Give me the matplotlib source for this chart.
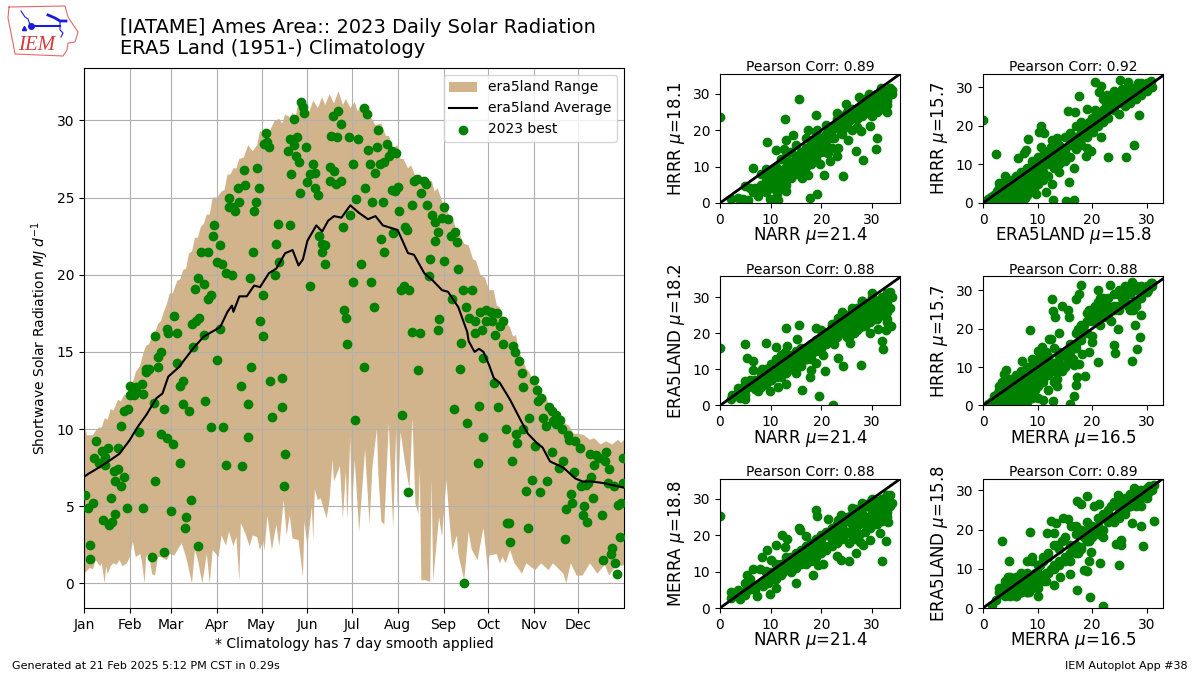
import numpy as np
import matplotlib as mpl
mpl.use("Agg")
import matplotlib.pyplot as plt

# Climatology band
high_edge = [(1,10.7),(2,10.0),(3,9.6),(7,9.6),(9,9.9),(11,10.1),(13,10.1),(15,10.7),(17,10.6),(19,11.3),(21,11.2),(24,11.9),(26,11.8),(28,12.2),(30,12.2),(32,12.9),(34,13),(36,13.7),(39,14.1),(41,14.9),(43,15.4),(45,15.5),(47,16),(49,16.2),(51,16.8),(53,17),(55,17.6),(57,18.1),(59,18.8),(61,18.8),(64,19.6),(66,19.7),(68,20.3),(70,20.4),(72,21.4),(74,21.5),(76,22.4),(78,22.4),(80,23.1),(82,23.3),(84,23.9),(86,23.9),(88,25),(91,25),(94,25.4),(96,25.5),(98,26.5),(100,26.5),(102,26.9),(104,26.9),(106,27.5),(109,27.6),(112,28.4),(115,28),(118,28.4),(120,29.3),(123,29.2),(125,29),(127,29.4),(130,30),(133,30.1),(135,29.8),(137,30.4),(140,30.2),(142,30.5),(144,30.2),(146,31.2),(148,30.7),(151,31),(153,30.5),(156,31.3),(159,30.8),(162,31.5),(164,31),(167,31.7),(170,31.1),(173,31.9),(176,31),(178,31.4),(181,30.8),(184,31.2),(186,30.6),(188,30.9),(191,30.2),(195,30.2),(198,29.7),(202,29.8),(205,29),(207,29),(210,28.2),(213,28.4),(215,27.5),(217,27.5),(220,26.9),(222,27.1),(225,26.4),(228,26.5),(231,26),(236,26.1),(238,25.4),(240,25.6),(243,24.8),(245,24.2),(247,24.1),(249,23.4),(251,23.5),(253,22.6),(255,22.6),(258,22),(261,21.9),(264,21),(266,20.9),(269,20),(272,19.8),(275,19),(278,19),(280,18),(282,17.9),(285,17),(289,16.6),(291,16),(293,16.1),(295,15),(297,14.6),(300,13.9),(302,13.7),(305,13),(308,12.9),(311,12.2),(313,12.2),(316,11.4),(320,11.2),(324,10.5),(329,10.2),(332,9.7),(335,9.7),(339,9.6),(343,9.3),(346,9.4),(350,9),(354,9.2),(358,9),(362,9.3),(364,9.1),(366,9.3)]
low_day = [1,2,5,7,9,12,13,15,16,17,19,21,23,25,27,30,32,34,36,39,40,42,43,45,47,49,51,53,57,59,62,67,70,74,76,78,81,84,86,88,92,94,97,99,102,104,106,107,110,113,115,118,120,122,123,125,128,131,133,136,138,140,142,146,149,150,152,155,156,157,159,161,165,167,169,170,174,176,178,179,181,182,184,187,191,194,196,199,200,202,204,207,210,212,213,215,218,221,223,225,227,228,229,232,235,236,237,241,243,246,248,250,253,254,258,261,263,267,271,274,275,280,282,284,286,289,292,297,300,306,310,315,318,325,327,330,334,338,343,348,353,356,360,366]
low_val = [0.7,0.7,1.0,0.9,1.5,1.1,1.3,0,1.1,0.6,1.1,1.3,1.2,1.5,1.1,1.3,1.7,2.7,1.7,1.9,1.5,0,1.7,1.9,0.6,0.5,1.7,1.7,1.5,1.9,1.8,2.6,1.7,0,2.15,1.5,0,1.9,0,2.15,1.7,3.1,2.45,3.35,2.4,3.0,0.1,3.9,3.25,2.4,3.1,3.0,2.15,2.8,2.1,4.4,2.15,3.8,2.4,5.4,3.1,4.4,2.9,2.8,0.4,4.0,2.4,4.9,2.8,6.1,5.4,5.5,4.2,5.4,8.0,6.6,7.6,4.2,7.3,4.1,9.5,4.5,8.0,3.35,8.7,3.8,7.6,10,7,4,3.8,10.4,3.5,10,4.75,9.8,7.8,6.1,10.7,5.2,4.5,7.4,0.2,0.2,0.1,6.8,0.2,4.3,3,6.7,4.1,2.15,3.1,1.9,0.2,3.35,2.2,1.5,3.6,0.85,1.8,1.9,1.3,1.7,1.3,2.15,1.3,0.63,1.3,0.85,1.3,0.85,1.3,0.63,0,1.3,0.5,0.5,1.3,0.63,1.2,0.5,1.07,1.17]

avg_day = [1,4,11,19,25,32,37,43,50,54,58,65,75,82,93,98,101,102,106,111,116,120,126,131,137,142,146,149,152,158,162,166,170,175,181,187,193,198,203,213,220,224,231,236,243,247,254,260,261,265,268,271,275,278,282,289,296,301,307,311,316,325,333,338,344,352,366]
avg_val = [6.9,7.1,7.5,8.0,8.4,9.3,10.1,10.9,12.0,12.3,13.4,14.0,15.25,16.0,16.6,17.6,18.0,17.6,18.6,18.6,19.3,19.2,20.1,20.4,21.4,21.6,20.6,21.0,22.2,23.2,22.8,23.5,23.8,23.7,24.5,24.0,23.6,23.8,23.2,22.9,21.4,21.3,20.1,19.7,19.0,18.9,17.9,16.3,15.7,15.0,15.2,15.0,14.1,13.3,13.0,11.9,10.6,9.7,9.1,8.8,7.9,7.5,6.8,6.6,6.6,6.5,6.2]

# 2023 observed, day of year and MJ
obs_day = [49,57,58,62,64,74,77,79,82,85,87,76,78,82,89,88,93,80,85,91,94,97,101,113,115,122,120,122,93,99,99,102,106,103,105,110,109,118,119,117,116,123,124,126,125,132,140,131,133,130,154,139,140,145,143,151,143,144,146,141,147,152,154,157,156,148,149,150,157,159,167,170,167,171,175,169,173,175,168,172,180,186,183,190,192,200,193,199,206,194,201,204,209,212,207,198,191,209,213,211,185,196,203,214,223,181,176,160,162,164,162,164,202,210,218,219,204,188,183,195,217,215,221,177,178,197,224,226,231,232,229,233,236,238,240,238,244,243,247,249,252,253,235,244,254,234,257,263,250,259,261,265,269,273,276,280,273,277,284,282,241,240,223,228,265,270,279,179,256,
           75,64,91,114,43,45,43,51,53,51,32,36,40,32,35,41,36,48,28,31,55,26,38,24,53,57,61,66,68,68,72,83,87,95,107,127,135,112,128,135,112,66,97,108,137,136,190,227,184,216,255,251,268,260,271,267,220,258,271,278,281,286,293,294,290,298,302,306,298,297,295,292,291,284,305,307,308,310,311,313,315,317,320,318,323,320,324,328,329,333,336,317,325,322,332,300,304,314,309,330,331,327,339,287,288,301,289,326,338,341,344,337,340,342,345,351,343,347,349,354,353,346,356,355,359,362,364,365,365,
           2,4,7,5,5,9,8,11,15,13,17,15,21,24,22,26,28,19,22,30,14,18,20,41,49,60,73,70,69,78,47,55,363,358,357,352,360,361]
obs_val = [16,16.5,16.2,17.3,16.2,16.8,17,17.2,16.1,18.4,18.7,19.1,19.8,19.4,23.2,22.5,21.9,21.5,21.5,20.8,20.7,20.1,20,19.8,21.5,18.7,17,16,16.5,25,24.4,24.4,24.7,24.1,25.6,25.8,26.8,26.9,25.6,24.7,24.1,28.5,29.2,28.3,28.6,23.3,23.2,22,20.8,20,19.3,28,28.8,28.9,30.1,28.3,28.4,27.7,27.3,26.5,25.3,26,26.5,26.6,27.2,31.2,30.9,30.5,25.6,25.2,27,26.7,26.1,25.9,26.1,30.3,30.6,29.8,29,28.9,28.9,28.8,27.2,30.8,30.4,29.4,28.1,28.3,28.5,27.2,27.2,27.3,28,27.9,27.7,26.6,25.6,25.5,25.7,25.4,24.9,24.7,24.7,24.1,24.5,23.9,23.1,22.5,22,21.9,21.5,20.7,22.3,22.7,23.1,22.9,21.5,20.7,19.5,19.5,19.3,19,19,17.7,17.2,17.9,26.1,26.2,26.1,25.9,25.3,24.5,23.9,23.4,22.8,22.2,24.4,23.7,23.6,22.5,22.8,22.1,21,20.9,20.4,19.9,19,19,18.4,17.9,17.2,17,17.6,17.7,17.6,17.5,17,17,17,16.7,17.1,16.4,16.3,16.2,16.2,16.4,16.1,15.5,15.6,
           15.3,14.3,14.5,14,13.9,13.9,13.7,14,15,14.7,12.8,12.7,12.9,12.2,12.2,12.3,12.4,11.7,11.2,11.3,11.3,10.2,9.8,8.8,9.7,9.4,9,12.8,13.1,11.6,11.2,11.8,10.1,10.1,12.8,13.1,13.3,11.6,10.8,11.4,9.5,7.8,7.7,7.6,8.4,6.3,14,13.8,10.6,10.9,13.9,11.3,11.5,10.4,9.5,7.8,5.9,0,14.6,13,11.4,10,9.7,9.1,7.9,10,10.7,8.9,12.7,13.6,14.4,15,15.4,15.5,13.2,12.5,11.8,12,10.7,10.2,11.4,11.2,10.9,10.5,10.6,10.3,10,9.6,9.3,9.2,8.8,8.5,7.9,7.5,7.2,6,6.7,6.6,5.9,5.8,5.2,4.8,5,3.9,3.9,3.6,2.7,2.9,4.4,4,6.9,6.3,6.4,6.5,5.5,4.4,8.4,8.3,8.1,8.5,7.9,7.7,7.4,6.5,6.3,5.1,5.2,8.1,6.5,
           5.7,4.9,5.2,2.5,1.6,9.2,8.1,7.8,8.2,8.6,8.8,7.7,7.3,7.4,6.6,6.3,6.9,5.5,4.5,4.9,4.1,3.8,4,4.9,6.6,4.7,5.4,4.3,3.6,2.4,1.7,2,3,2.3,1.9,1.5,1.3,0.6]

# Comparison panels, x then y
narr_hrrr_x = [0,15.6,12.9,19,9.2,11.1,12.6,6.5,9,13.1,14.3,17.4,19.1,21,23,24.8,27.4,29.4,31.8,33.5,33.7,33,31,31,30.7,29.5,27.8,28.2,26.8,25.3,24.3,23.2,23,20.5,19.1,17.7,17.4,16.2,18,19.7,21.6,20.3,21.3,23.9,2.2,3.6,4.5,5.5,4.9,5.9,7.5,8.2,9.9,11.2,11.4,13,10.8,9.8,
               24,25,26,27,27,28,28,29,29,30,30,30,31,31,31,32,32,32,33,33,33,34,33,34,26,25,27,28,29,23,22,22,24,21,20,19,18,17,16,15,14,13,12,11,10,9,8,7,18,17,16,15,14,13,12,11,10,9,20,21,22,19,16,18,15,17,19,13,12,14,11,10,8,26,25,24,23,
               28.5,29.5,30.5,31.5,32.5,33.5,27.5,26.5,25.5,24.5,
               29.5,30.5,31.5,32.5,28.5,27.5,26.5,33,31,30,
               23.5,22.5,21.5,20.5,19.5,18.5,17.5,16.5,15.5,14.5,
               13.5,12.5,11.5,10.5,9.5,8.5,7.5,6.5,14,16,
               15,13,12,17,19,21,20,18,22.5,24]
narr_hrrr_y = [23.7,28.6,23.2,24.1,16.7,14.5,14.9,9.5,9.4,17.4,18.7,20.2,20.2,21.6,24.8,27.2,29.2,30,31.7,31.7,30.5,25,25.2,17.9,14.9,21.1,19.9,11.7,14.2,17.2,7.3,15.1,12.8,7.6,2.6,1.3,7.8,6.9,10.6,10.7,11.5,15.4,13.8,19.3,1.1,1.4,1.2,0.9,4.8,4.1,2,3.7,1.1,2.5,0.9,3.4,6,8.7,
               22,23,24,25,23,26,24,27,25,28,26,24,29,27,25,30,28,26,30,29,27,30,28,31,26,21,21,28,29,21,20,18,19,19,18,17,17,15,14,13,11,10,9,8,7,6,5,4,13,12,11,10,9,7,6,5,4,3,14,16,15,13,8.5,11,16,18,19,13,12,14,10,9,8,20,25,24,23,
               25.5,26.5,27.5,28.5,29.5,30.5,24.5,23.5,22.5,21.5,
               24.5,25.5,26.5,27.5,27,26,25,31,30,27.5,
               22,21,20,17,16,15,14,13,12,11.5,
               11,8,7,6,7,4,3,3,7,9.5,
               8,5,4,10,12,14,15.5,16,18,21]

era_hrrr_x = [0,2.4,8.2,7.8,7.5,6.4,10.7,10.2,11.2,10.6,11.2,12.7,13.6,15.5,16.8,17.6,20.6,21.6,21.3,22.8,25.1,26.6,29,30.8,28.6,27.7,26.2,22.9,21.7,19.1,20.1,19.1,18.8,19.8,16.7,15.8,12.9,15.2,16.7,14,12.7,11.5,9.8,9.3,7.7,4.1,2.9,
              0.5,1,1.5,2,2,2.5,3,3,3.5,4,4,4,4.5,5,5,5,5.5,6,6,6,6,6.5,7,7,7,7,8,8,8,8,9,9,9,9,10,10,10,10,11,11,11,12,12,12,13,13,14,14,14,15,15,15,16,16,16,17,17,17,18,18,18,19,19,20,20,21,21,22,22,23,23,24,24,25,25,26,26,27,27,28,28,29,29,30,30,31,24,22,
              1,2,3,4,5,6,7,8,1.5,2.5,
              3.5,4.5,5.5,6.5,7.5,8.5,9.5,3,4,5,
              6,7,8,9,10,11,12,13,14,15,
              16,17,18,19,20,21,22,23,24,25,
              26,27,28,29,30,26.5,27.5,28.5,25.5,24.5,
              23.5,22.5,21.5,20.5,19.5,18.5,17.5,14.5,13.5,12.5,
              11.5,10.5,9.5,8.5,7.5,6.5,5.5,4.5,2,1]
era_hrrr_y = [21.4,12.7,16.6,13.8,12.9,11.6,20,18.5,18.1,14.5,13.4,16.4,16.8,23.7,23.5,27.6,31.2,30.4,28.7,28,31.9,31.2,31,31.7,22.8,14.9,11.8,11.8,17.2,24.4,18.5,14.2,12.1,13.4,9.1,5.4,0.9,0.6,0.8,7.9,4.9,2.8,2.4,3.9,1.3,6.9,5.3,
              0.5,1,0.8,2,1,3,2,0.5,3.5,1,3,5,2,0.5,4,6,2,1,3,5,7,2,0.5,4,6,8,2,5,7,9,3,6,8,11,5,7,9,12,6,8,11,7,10,13,9,11,10,13,15,11,14,17,12,15,18,14,17,20,15,18,21,17,20,19,22,20,23,21,24,22,26,24,27,23,28,25,29,26,28,27,30,28,30,29,31,30,29,27,
              0.3,0.6,1.2,1.8,2.5,3.5,4.5,5.5,1.6,1.8,
              0.8,3.5,3.8,4.2,5,6,7,4,4,5.2,
              6,7,8,9.5,10.5,9.5,11.5,12.5,12,13,
              16.5,15.5,16.5,18.5,20.5,21.5,23,24,25,26,
              27,27.5,28.5,29.5,29.5,30,29.5,31,29.5,28,
              25,25.5,22.5,24,21,19.5,16.5,14,12,14.5,
              12.5,8,5,3.5,2.5,1,0.8,0.5,0.3,0.2]

narr_era_x = [0,5,9,5.4,6.5,13,15.6,19,11.1,13.3,15.1,22,23.3,28.2,33.8,33,32.8,31.2,29.5,32,32.2,27.8,25.6,24.3,23.2,20.3,20.7,17.7,17.9,19,16.2,19.5,22.2,14.9,13.1,11.4,9.9,7.4,4.9,2.2,2.4,3.6,3.9,4.9,4.9,6.5,8.2,10.1,12.8,33.5,31.5,
              34,33,33,33,32,32,32,31,31,31,30,30,30,29,29,29,28,28,28,27,27,27,26,26,26,25,25,25,24,24,23,23,22,22,21,21,20,20,19,19,18,18,17,17,16,16,15,15,14,14,13,13,12,12,11,11,10,10,9,9,8,8,7,7,6,6,5,24,26,28,30,22,20,
              33,32.5,32,31.5,31,30.5,30,29.5,29,28.5,
              28,27.5,27,26.5,26,25.5,25,24.5,24,23.5,
              33.5,32.5,31.5,30.5,29.5,28.5,27.5,26.5,25.5,33,
              23,22.5,22,21.5,21,20.5,20,19.5,19,18.5,
              18,17.5,17,16.5,16,15.5,15,14.5,14,13.5,
              13,12.5,12,11.5,11,10.5,10,9.5,9,8.5,
              8,7.5,7,6,5.5,5,4,3,30,28]
narr_era_y = [16,17.1,17.3,13.1,12.3,21.5,22.2,21.5,16.2,16.6,18.5,22.6,24.3,28.4,22,23.1,21,21.2,20,17.9,15.7,11.1,17.3,10.9,13.2,14,9.6,7.8,9.7,11.7,4.4,2.6,0.2,9,6,5.1,4,3.9,4.2,1.8,2.8,4.9,2.1,1.8,6.9,9.7,10.2,11.5,14.8,31.4,29.1,
              30,31,28,26,30,27,25,29,27,24,29,26,24,28,26,23,28,25,22,27,24,21,26,23,20,25,22,19,24,20,23,19,22,18,20,17,19,16,18,15,17,13,16,13,16,12,15,12,14,11,13,11,14,9,13,10,11,7,10,6,8,5,7,5,7,6,6,26,27,29,30,21,21,
              29,29,29.5,28,28.5,27,27.5,26,26.5,25,
              25.5,24,25,23,24.5,22,23.5,21,22.5,20.5,
              27,26,25,24,23,22,21.5,20,19,24,
              21.5,17,20.5,19,19,17,18,16,17,15,
              14,15,13,14,11,13,11,12,10,11.5,
              9,12.5,8,10.5,8,9,7,8,6.5,7,
              9,6,4.5,6,5,3,3,3,31,29]

merra_hrrr_x = [8.7,12.7,12.9,13.2,18,17.6,17,14.5,15.5,15.8,13.9,12.1,10.9,10.1,12.4,7.2,4.3,3.8,3.5,3,4.4,12.9,15.9,16.7,13.6,17,17.3,18.7,16.7,17.6,18.2,19.4,21,20,24,24.2,27.4,28.2,28.7,27.9,29,24.7,23.3,21,27.4,30.8,30.2,
                1,1.5,2,2,2.5,3,3,3.5,4,4,4.5,5,5,5,5.5,6,6,6,6.5,7,7,7,7.5,8,8,8,8.5,9,9,9,9.5,10,10,10,11,11,11,12,12,12,13,13,14,14,15,15,16,16,17,17,18,18,19,19,20,20,21,21,22,22,23,23,24,24,25,25,26,26,27,27,28,28,29,29,30,31,
                2,3,4,5,6,7,8,9,10,11,
                2.5,3.5,4.5,5.5,6.5,7.5,8.5,9.5,10.5,11.5,
                3,4,5,6,7,8,9,10,11,12,
                13,14,15,16,17,18,19,20,21,22,
                13.5,14.5,15.5,16.5,17.5,18.5,19.5,20.5,21.5,22.5,
                23,24,25,26,27,28,29,30,31,28.5,
                23.5,24.5,25.5,26.5,27.5,26,27,28,22.5,21.5,
                12.5,11.5,10.5,9,8,7,6,5,13,14]
merra_hrrr_y = [19.6,27.7,24.5,23,31.5,29.1,27.8,25.9,25,23,19,17.2,15.2,14.3,17.4,11.7,9.3,8.3,6.1,3,3,1.1,0.3,2.6,5,5.4,7.4,7.6,10.6,10.9,13.5,13.9,11.3,16.5,15.7,13.7,11.7,14.8,17.8,21,23.7,20,31.3,30,32.2,32,30,
                0.5,1,1,2.5,2,1,4,3,2,5,1,1,3,6,2,1,4,7,3,1,5,8,2,1,6,9,3,2,5,8,4,2,6,10,1.5,7,10,4,8,13,6,11,9,13,10,14,12,16,15,19,17,21,19,24,18,23,22,27,24,28,23,26,26,29,25,30,27,31,25,29,27,30,29,31,29.5,31,
                1,1.5,1.5,2,3,3,4,5,5,6,
                3,5,5,5,6,6,7,8,8,9,
                5,6.5,7,8,9,10,10.5,11,12,12,
                9,11,13,14,16,19,22,22,24,26,
                7,9,11,12,20,21,25,26,21,23,
                28,25,29,30,29,31,28,31,32,30,
                22,26,28,26,25,27,31,26,25,28,
                10.5,14,13,12,2,4,1.5,4,15,14]

narr_merra_x = [0,19,19.2,21.3,23.9,23.2,15.6,15.7,12.2,13.3,11.1,12.8,9.3,8.3,10.1,6.5,7.8,9.1,5.3,4.9,3.6,2.2,2.2,3.9,5,7.2,9.9,11.1,14.9,18.4,19.3,20.3,17,23,23.9,25.4,26.9,28.2,27.6,29.5,31.5,32.8,33.2,32,33.5,29.3,26.8,17,19,
                34,33,33,33,32,32,32,31,31,31,30,30,30,29,29,29,28,28,27,27,27,26,26,26,25,25,24,24,23,23,22,22,21,21,20,20,19,19,18,18,17,17,16,16,15,15,14,14,13,13,12,12,11,11,10,10,9,9,8,7,6,26,28,30,32,24,22,20,
                33,32.5,32,31.5,31,30.5,30,29.5,29,28.5,
                28,27.5,27,26.5,26,25.5,25,24.5,24,23.5,
                33.5,32.5,31.5,30.5,29.5,28.5,27.5,26.5,25.5,33,
                23,22.5,22,21.5,21,20.5,20,19.5,19,18.5,
                18,17.5,17,16.5,16,15.5,15,14.5,14,13.5,
                13,12.5,12,11.5,11,10.5,10,9.5,9,8.5,
                8,7,6,5.5,4.5,3,4,30,28,26]
narr_merra_y = [25.4,26.9,25.4,24.6,25.5,24.3,22,21.4,20,19.1,17.2,16.8,16,14,13.3,10.7,10.6,10.1,9,6.9,5,4.4,2.8,2.6,3.7,3.4,3.9,5.5,7,9,11.9,12.1,12.8,14.2,13.3,12.8,15.1,17.4,18.3,18.8,20.6,18.5,23.7,13,31.2,29,27.2,19.7,17.4,
                29,31,28,25,30,27,24,29,26,23,29,26,24,28,25,22,28,24,27,24,21,26,23,20,25,21,24,19,23,18,22,17,21,16,20,15,19,14,18,13,17,12,16,12,15,11,14,10,13,11,12,9,12,8,10,8,10,7,7,6,8,25,26,27,26,22,19,17,
                30,28,30,27,29.5,26,28,25,28,24,
                26,23,26,22,25,21,24,20,22.5,19,
                28,25,24,23,22,21,20,19,18,26.5,
                21,18,21,17,20,17,19,16,18.5,15,
                17,14,15.5,13,14.5,12.5,13,11,12,11,
                14,10,11,9,10,8,9,7,8,6,
                7,5,7,5,4.5,3.5,4.5,30,29,27.5]

merra_era_x = [3.5,4.8,8.7,19,17.3,18,12.5,13.4,14.7,15.6,16.1,17,11.8,13,24.7,21.3,20.4,31.3,29.4,29,27.4,25,25.3,24.4,25.3,22,21.5,22,19.6,17.3,16,14.1,13.1,11.6,10.1,1.7,2.3,2.9,18.5,19.1,19.4,19.8,30.2,31.4,27.7,
               3,3.5,4,4,4.5,4.5,5,5,5,5.5,5.5,6,6,6,6.5,6.5,7,7,7,7.5,7.5,8,8,8,8.5,8.5,9,9,9,9.5,10,10,10,11,11,12,12,13,13,14,14,15,15,16,16,17,17,18,18,19,19,20,20,21,21,22,22,23,23,24,24,25,25,26,26,27,27,28,28,29,29,30,30,31,
               3.5,4,4.5,5,5.5,6,6.5,7,7.5,8,
               8.5,9,9.5,10,10.5,11,11.5,12,12.5,13,
               13.5,14,14.5,15,15.5,16,16.5,17,17.5,18,
               18.5,19,19.5,20,20.5,21,21.5,22,22.5,23,
               23.5,24,24.5,25,25.5,26,26.5,27,27.5,28,
               28.5,29,29.5,30,30.5,31,6,7,8,9,
               5,6,7,8,9,10,11,12,9,8]
merra_era_y = [17.2,12.1,19.4,28.5,27.4,26.5,22.1,21.7,22.9,22.8,21,21,19.1,19.1,28.9,26.5,25.9,22.1,15.7,20.8,21.7,11,17.4,16.3,16.1,18,11.5,0.4,2.7,4.5,8.7,8,5.9,7,3,0.8,2.1,5.1,9.8,9.5,11.9,14.3,29.3,31.4,30.6,
               4,5,3,7,4,8,3,6,8,4,7,3,5,8,4,7,4,6,9,5,8,4,6,9,4,7,5,8,12,6,5,8,11,7,13,9,14,10,16,11,15,13,18,12,16,14,19,15,20,17,22,18,21,19,23,20,24,22,25,23,27,24,27,25,28,26,29,27,30,28,30,30,30.5,31,
               3.5,6,5.5,6.5,4.5,7,5,8,6.5,7,
               8.5,7,9,9,11,12,9,13,10,11,
               16,12,17,12,13,14,15,16,14,15.5,
               18,20,17,19,20,21,23,23,24,24,
               26,22,26,23,27,24,28,26,29,26,
               29,26,29,28,31,30,3,5,4,5,
               4,4,4,5,6,7,8,9,13,12]

panel_xname = ["NARR", "ERA5LAND", "NARR", "MERRA", "NARR", "MERRA"]
panel_yname = ["HRRR", "HRRR", "ERA5LAND", "HRRR", "MERRA", "ERA5LAND"]
panel_xmean = [21.4, 15.8, 21.4, 16.5, 21.4, 16.5]
panel_ymean = [18.1, 15.7, 18.2, 15.7, 18.8, 15.8]
panel_corr = [0.89, 0.92, 0.88, 0.88, 0.88, 0.89]
panel_x = [narr_hrrr_x, era_hrrr_x, narr_era_x, merra_hrrr_x, narr_merra_x, merra_era_x]
panel_y = [narr_hrrr_y, era_hrrr_y, narr_era_y, merra_hrrr_y, narr_merra_y, merra_era_y]

month_start = [1, 32, 60, 91, 121, 152, 182, 213, 244, 274, 305, 335]
month_name = ["Jan", "Feb", "Mar", "Apr", "May", "Jun", "Jul", "Aug", "Sep", "Oct", "Nov", "Dec"]


def pixel_axes(fig, left, top, right, bottom):
    # figure is 1200x675, y counted from the top like the screenshot
    return fig.add_axes([left / 1200., 1 - bottom / 675., (right - left) / 1200., (bottom - top) / 675.])


fig = plt.figure(figsize=(12, 6.75), dpi=100)

### Main plot ###
ax = pixel_axes(fig, 84, 68, 624, 608)
high_day, high_val = zip(*high_edge)
ax.fill(list(high_day) + low_day[::-1], list(high_val) + low_val[::-1],
        color="tan", lw=0, label="era5land Range", zorder=1)
ax.plot(avg_day, avg_val, color="k", lw=1.5, label="era5land Average", zorder=4)
ax.scatter(obs_day, obs_val, color="g", label="2023 best", zorder=3)
ax.set_xticks(month_start)
ax.set_xticklabels(month_name)
ax.set_yticks(range(0, 31, 5))
ax.set_xlim(1, 366)
ax.set_ylim(-1.6, 33.4)
ax.grid(True)
ax.set_ylabel(r"Shortwave Solar Radiation $MJ$ $d^{-1}$")
ax.set_xlabel("* Climatology has 7 day smooth applied")
ax.legend(loc="upper right")

### Comparison panels ###
lefts = [720, 983]
tops = [74, 276.5, 479]
xlims = [35.5, 33, 35.5, 33, 35.5, 33]
ylims = [35.5, 33.4, 35.7, 33.6, 35.5, 32.9]
for i in range(6):
    left = lefts[i % 2]
    top = tops[i // 2]
    pax = pixel_axes(fig, left, top, left + 180, top + 129)
    pax.scatter(panel_x[i], panel_y[i], color="g")
    pax.plot([0, 40], [0, 40], color="k", lw=2)
    pax.set_xlim(0, xlims[i])
    pax.set_ylim(0, ylims[i])
    pax.set_xticks([0, 10, 20, 30])
    pax.set_yticks([0, 10, 20, 30])
    pax.set_xlabel(r"%s $\mu$=%.1f" % (panel_xname[i], panel_xmean[i]), fontsize=12, labelpad=-1)
    pax.set_ylabel(r"%s $\mu$=%.1f" % (panel_yname[i], panel_ymean[i]), fontsize=12, labelpad=4)
    pax.set_title("Pearson Corr: %.2f" % (panel_corr[i],), fontsize=10, pad=-0.5)

### Titles and footers ###
fig.text(120 / 1200., 1 - 18 / 675., "[IATAME] Ames Area:: 2023 Daily Solar Radiation\nERA5 Land (1951-) Climatology",
         fontsize=14, va="top", ha="left", linespacing=1.15)
fig.text(12 / 1200., 1 - 666 / 675., "Generated at 21 Feb 2025 5:12 PM CST in 0.29s", fontsize=8, va="center")
fig.text(1188 / 1200., 1 - 666 / 675., "IEM Autoplot App #38", fontsize=8, va="center", ha="right")

### IEM logo, traced roughly ###
logo = pixel_axes(fig, 0, 0, 90, 65)
logo.set_xlim(0, 90)
logo.set_ylim(65, 0)
logo.axis("off")
logo.plot([9, 65, 68, 78, 75, 68, 67, 63, 15, 13, 8, 9], [7, 6, 17, 32, 42, 43, 50, 56, 54, 43, 18, 7],
          color="#e2686a", lw=0.8)
logo.plot([31, 60], [26, 26], color="#1c1cd8", lw=1.5)
logo.plot([31], [26], "o", color="#1c1cd8", ms=4)
logo.plot([21, 25, 28, 30], [11, 17, 19, 25], color="#1c1cd8", lw=0.8)
logo.plot([48, 55, 60, 66], [15, 18, 21, 21], color="#1c1cd8", lw=2)
logo.plot([60, 60, 63, 61], [21, 30, 33, 37], color="#1c1cd8", lw=0.8)
logo.plot([24], [28], "^", color="#1c1cd8", ms=3)
logo.text(37, 45, "IEM", color="#d43c3c", fontsize=15, family="Liberation Serif", style="italic",
          ha="center", va="center")

fig.savefig("out.png", dpi=100)
